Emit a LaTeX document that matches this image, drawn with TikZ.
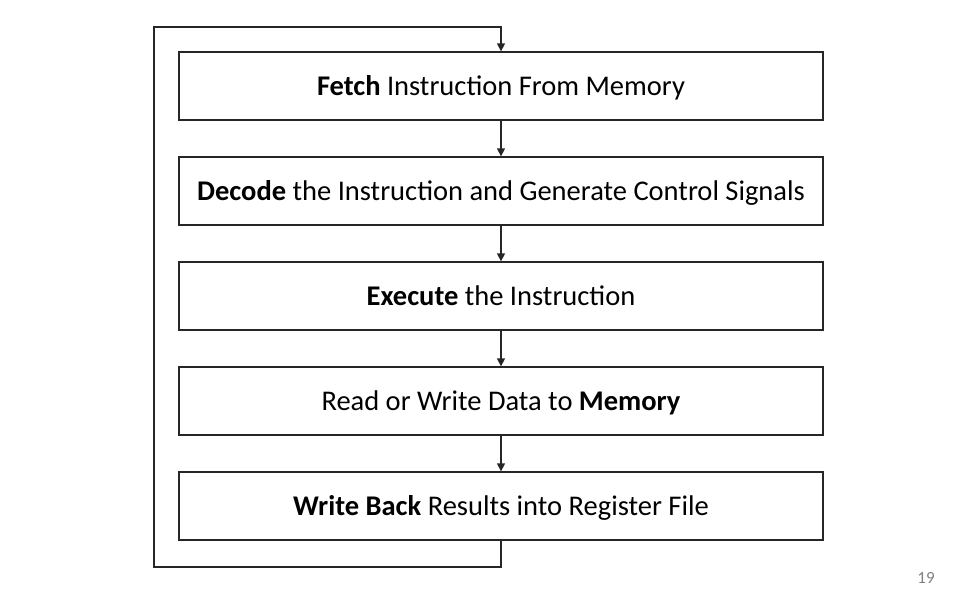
\documentclass[tikz,border=0pt]{standalone}
\usepackage{fontspec}
\setmainfont{Carlito}
\usetikzlibrary{arrows.meta}
\begin{document}
\begin{tikzpicture}[x=1pt,y=-1pt,
  stagebox/.style={draw=black!85, line width=1.3pt, minimum width=644pt, minimum height=68pt, inner sep=0pt, text height=24pt, text depth=5pt, font=\fontsize{28.5}{33}\selectfont},
  flow/.style={draw=black!85, line width=1.3pt, -{Triangle[length=8pt,width=8pt]}}]
\useasboundingbox (0,0) rectangle (962,598);
\node[stagebox] (s1) at (501,86) {\textbf{Fetch} Instruction From Memory};
\node[stagebox] (s2) at (501,191) {\textbf{Decode} the Instruction and Generate Control Signals};
\node[stagebox] (s3) at (501,296) {\textbf{Execute} the Instruction};
\node[stagebox] (s4) at (501,401) {Read or Write Data to \textbf{Memory}};
\node[stagebox] (s5) at (501,506) {\textbf{Write Back} Results into Register File};
\draw[flow] (s1) -- (s2);
\draw[flow] (s2) -- (s3);
\draw[flow] (s3) -- (s4);
\draw[flow] (s4) -- (s5);
\coordinate (bl) at (154,567);
\coordinate (tl) at (154,27);
\draw[flow] (s5.south) |- (bl) -- (tl) -| (s1.north);
\node[text=black!50, font=\fontsize{17}{20}\selectfont] (pg) at (926,578) {19};
\end{tikzpicture}
\end{document}
